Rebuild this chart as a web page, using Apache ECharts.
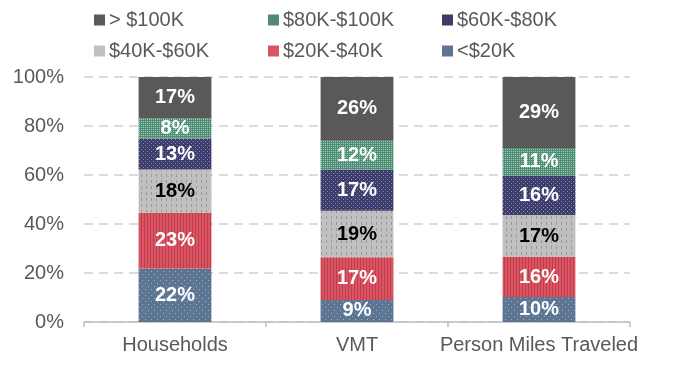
<!DOCTYPE html>
<html lang="en" style="height: 100%">
<head>
  <meta charset="utf-8">
</head>
<body style="height: 100%; margin: 0; background: #fff">
  <div id="container" style="width: 685px; height: 377px"></div>

  <script type="text/javascript" src="https://fastly.jsdelivr.net/npm/echarts@6/dist/echarts.min.js"></script>

  <script type="text/javascript">
    var categories = ['Households', 'VMT', 'Person Miles Traveled'];
    var seriesNames = ['> $100K', '$80K-$100K', '$60K-$80K', '$40K-$60K', '$20K-$40K', '<$20K'];
    var yTicks = [0, 20, 40, 60, 80, 100];

    // share of each income group, bottom to top
    var under20 = [21.8, 9.0, 10.2];
    var k20to40 = [22.8, 17.4, 16.3];
    var k40to60 = [17.6, 19.0, 17.2];
    var k60to80 = [12.7, 16.8, 16.1];
    var k80to100 = [8.2, 11.8, 11.2];
    var over100 = [16.9, 26.0, 29.0];

    function makePattern(bg, draw, w, h) {
      var c = document.createElement('canvas');
      c.width = w; c.height = h;
      var ctx = c.getContext('2d');
      ctx.fillStyle = bg;
      ctx.fillRect(0, 0, w, h);
      draw(ctx);
      return { image: c, repeat: 'repeat' };
    }

    function dots(color, step) {
      return function (ctx) {
        ctx.fillStyle = color;
        ctx.fillRect(1, 1, 1, 1);
        ctx.fillRect(1 + step / 2, 1 + step / 2, 1, 1);
      };
    }

    var fillOver100 = '#595959';
    var fill80 = makePattern('#4f8a73', dots('#9fd0bb', 2), 2, 2);
    var fill60 = makePattern('#3d3d6b', dots('#8a8ab8', 4), 4, 4);
    var fill40 = makePattern('#c0c0c0', function (ctx) {
      ctx.fillStyle = '#9a9a9a';
      ctx.fillRect(1, 0, 1, 3);
    }, 5, 6);
    var fill20 = makePattern('#d95563', function (ctx) {
      ctx.fillStyle = '#c23b4b';
      ctx.fillRect(0, 0, 1, 4);
    }, 3, 4);
    var fillUnder20 = makePattern('#5c7592', dots('#9fb2c8', 6), 6, 6);

    var legendColors = ['#595959', '#4f8a73', '#3d3d6b', '#c0c0c0', '#d95563', '#5c7592'];
    var legendLeft = [94, 268, 442, 94, 268, 442];
    var legendTop = [10, 10, 10, 41, 41, 41];

    var dom = document.getElementById('container');
    var myChart = echarts.init(dom, null, { renderer: 'canvas' });

    function barSeries(name, data, fill, labelColor) {
      return {
        name: name,
        type: 'bar',
        stack: 'total',
        barWidth: '40%',
        data: data,
        itemStyle: { color: fill },
        label: {
          show: true,
          color: labelColor,
          fontFamily: 'Liberation Sans',
          fontWeight: 'bold',
          fontSize: 20,
          formatter: function (p) { return Math.round(p.value) + '%'; }
        },
        emphasis: { disabled: true }
      };
    }

    var legends = seriesNames.map(function (n, i) {
      return {
        data: [{ name: n, itemStyle: { color: legendColors[i] } }],
        left: legendLeft[i],
        top: legendTop[i],
        itemWidth: 11,
        itemHeight: 11,
        itemGap: 0,
        icon: 'rect',
        padding: 0,
        textStyle: { fontFamily: 'Liberation Sans', fontSize: 20, color: '#595959', padding: [0, 0, 0, -1] }
      };
    });

    var option = {
      animation: false,
      backgroundColor: '#fff',
      grid: { left: 84, right: 55, top: 77, bottom: 55 },
      legend: legends,
      xAxis: {
        type: 'category',
        data: categories,
        axisLine: { lineStyle: { color: '#bfbfbf', width: 1.5 } },
        axisTick: { show: true, length: 5, lineStyle: { color: '#bfbfbf', width: 1.5 } },
        axisLabel: { interval: 0, fontFamily: 'Liberation Sans', fontSize: 20, color: '#595959', margin: 13 }
      },
      yAxis: {
        type: 'value',
        min: yTicks[0],
        max: yTicks[yTicks.length - 1],
        interval: 20,
        axisLine: { show: false },
        axisTick: { show: false },
        axisLabel: {
          fontFamily: 'Liberation Sans', fontSize: 20, color: '#595959', margin: 20,
          formatter: '{value}%'
        },
        splitLine: { lineStyle: { color: '#d0d0d0', type: [9, 6], width: 1.5 } }
      },
      series: [
        barSeries('<$20K', under20, fillUnder20, '#fff'),
        barSeries('$20K-$40K', k20to40, fill20, '#fff'),
        barSeries('$40K-$60K', k40to60, fill40, '#000'),
        barSeries('$60K-$80K', k60to80, fill60, '#fff'),
        barSeries('$80K-$100K', k80to100, fill80, '#fff'),
        barSeries('> $100K', over100, fillOver100, '#fff')
      ]
    };

    myChart.setOption(option);
    window.addEventListener('resize', myChart.resize);
  </script>
</body>
</html>
